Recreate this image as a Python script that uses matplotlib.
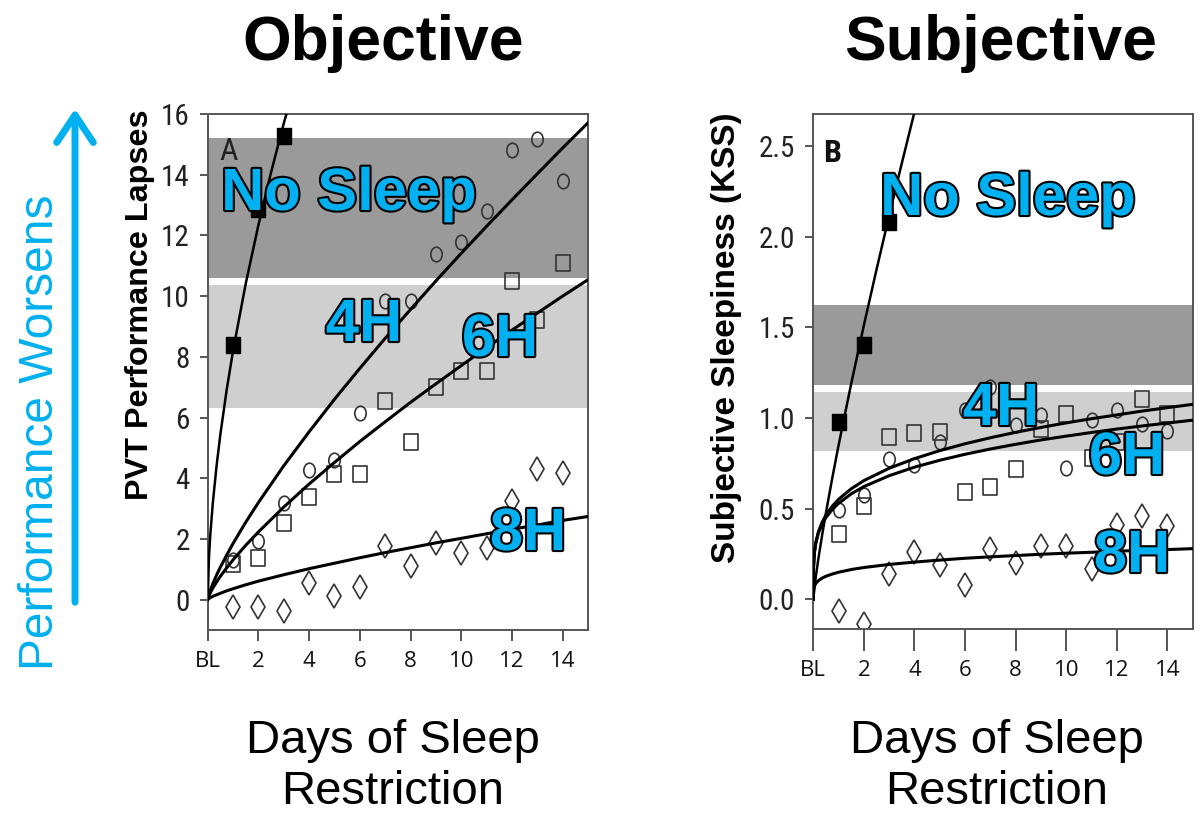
import matplotlib
matplotlib.use("Agg")
import matplotlib.pyplot as plt
import matplotlib.patheffects as pe
from matplotlib import font_manager
from matplotlib.path import Path
from matplotlib.transforms import Affine2D
from matplotlib.patches import FancyArrowPatch

# ---------------- data ----------------
days = [1, 2, 3, 4, 5, 6, 7, 8, 9, 10, 11, 12, 13, 14]
nosleep_days = [1, 2, 3]

# Objective (PVT lapses)
pvt_nosleep = [8.38, 12.88, 15.26]
pvt_4h = [1.3, 1.92, 3.18, 4.28, 4.6, 6.14, 9.84, 9.84, 11.4, 11.78, 12.8, 14.83, 15.18, 13.78]
pvt_6h = [1.17, 1.36, 2.54, 3.39, 4.13, 4.13, 6.53, 5.18, 6.99, 7.53, 7.53, 10.49, 9.21, 11.1]
pvt_8h = [-0.23, -0.23, -0.36, 0.55, 0.13, 0.41, 1.78, 1.1, 1.87, 1.54, 1.7, 3.26, 4.32, 4.17]

# Subjective (KSS)
kss_nosleep = [0.978, 1.40, 2.08]
kss_4h = [0.491, 0.574, 0.772, 0.739, 0.868, 1.046, 1.171, 0.96, 1.015, 0.724, 0.987, 1.046, 0.969, 0.928]
kss_6h = [0.362, 0.513, 0.895, 0.919, 0.923, 0.592, 0.619, 0.721, 0.941, 1.024, 0.781, 0.868, 1.107, 1.024]
kss_8h = [-0.061, -0.134, 0.142, 0.261, 0.188, 0.077, 0.28, 0.20, 0.292, 0.292, 0.169, 0.408, 0.458, 0.403]

# fitted curves
fit_x = [0, 0.01, 0.05, 0.1, 0.2, 0.35, 0.5, 0.75, 1, 1.5, 2, 3, 4, 5, 6, 7, 8, 9, 10, 11, 12, 13, 14, 15]
ns_x = [0, 0.05, 0.1, 0.2, 0.35, 0.5, 0.75, 1, 1.5, 2, 2.5, 3, 3.5, 4, 4.5]

pvt_fit_ns = [0, 1.40, 2.11, 3.17, 4.41, 5.45, 6.92, 8.2, 10.41, 12.34, 14.08, 15.69, 17.17, 18.5, 19.8]
pvt_fit_4h = [0, 0.049, 0.17, 0.30, 0.52, 0.81, 1.07, 1.47, 1.85, 2.55, 3.20, 4.41, 5.53, 6.60, 7.62, 8.61,
              9.56, 10.50, 11.41, 12.30, 13.17, 14.03, 14.88, 15.71]
pvt_fit_6h = [0, 0.038, 0.13, 0.22, 0.38, 0.58, 0.77, 1.05, 1.31, 1.79, 2.23, 3.05, 3.81, 4.52, 5.21, 5.86,
              6.50, 7.11, 7.71, 8.30, 8.88, 9.44, 10.00, 10.54]
pvt_fit_8h = [0, 0.011, 0.04, 0.064, 0.11, 0.16, 0.21, 0.29, 0.36, 0.49, 0.61, 0.82, 1.02, 1.20, 1.38, 1.55,
              1.71, 1.87, 2.02, 2.17, 2.32, 2.46, 2.61, 2.74]

kss_fit_ns = [0, 0.071, 0.126, 0.224, 0.356, 0.478, 0.669, 0.85, 1.19, 1.511, 1.818, 2.116, 2.404, 2.686, 2.96]
kss_fit_4h = [0, 0.178, 0.264, 0.313, 0.372, 0.426, 0.465, 0.514, 0.552, 0.610, 0.655, 0.723, 0.776, 0.820,
              0.858, 0.891, 0.921, 0.948, 0.973, 0.996, 1.017, 1.038, 1.057, 1.075]
kss_fit_6h = [0, 0.184, 0.266, 0.312, 0.366, 0.416, 0.452, 0.496, 0.53, 0.582, 0.622, 0.682, 0.729, 0.767,
              0.800, 0.829, 0.855, 0.879, 0.900, 0.920, 0.939, 0.956, 0.972, 0.988]
kss_fit_8h = [0, 0.052, 0.0753, 0.0883, 0.1036, 0.1178, 0.128, 0.140, 0.15, 0.165, 0.176, 0.193, 0.206, 0.217,
              0.227, 0.235, 0.242, 0.249, 0.255, 0.260, 0.266, 0.271, 0.275, 0.280]

# bands (dark, light)
pvt_bands = [(10.6, 15.2), (6.33, 10.38)]
kss_bands = [(1.18, 1.62), (0.818, 1.143)]

xtick_pos = [0, 2, 4, 6, 8, 10, 12, 14]
xtick_lab = ["BL", "2", "4", "6", "8", "10", "12", "14"]
pvt_yticks = [0, 2, 4, 6, 8, 10, 12, 14, 16]
kss_yticks = [0.0, 0.5, 1.0, 1.5, 2.0, 2.5]

# ---------------- fonts ----------------
_names = {f.name for f in font_manager.fontManager.ttflist}
_dv_cond = any(f.name == "DejaVu Sans" and str(f.stretch) in ("condensed", "semi-condensed", "600", "700")
               for f in font_manager.fontManager.ttflist)
NARROW_KW = {"family": ["Liberation Sans", "DejaVu Sans"]}
for cand in ["Liberation Sans Narrow", "Roboto Condensed", "Open Sans Condensed", "DejaVu Sans Condensed"]:
    if cand in _names:
        NARROW_KW = {"family": [cand, "DejaVu Sans"]}
        break
else:
    if _dv_cond:
        NARROW_KW = {"family": ["DejaVu Sans"], "fontstretch": "condensed"}

# ---------------- style ----------------
BLUE = "#00B0F0"
DARK = "#9a9a9a"
LIGHT = "#cfcfcf"
EDGE = "#333333"
ARIAL = ["Liberation Sans", "DejaVu Sans"]

oval = Path.unit_circle().transformed(Affine2D().scale(0.78, 1.0))
rect = Path([(-0.85, -1), (0.85, -1), (0.85, 1), (-0.85, 1), (-0.85, -1)],
            [Path.MOVETO, Path.LINETO, Path.LINETO, Path.LINETO, Path.CLOSEPOLY])

fig = plt.figure(figsize=(11.99, 8.16), dpi=100)
W, H = 1199.0, 816.0

ax1 = fig.add_axes([207.7 / W, 1 - 630 / H, (588 - 207.7) / W, (630 - 114) / H])
ax2 = fig.add_axes([813.3 / W, 1 - 628.5 / H, (1192.7 - 813.3) / W, (628.5 - 114) / H])


def style_axes(ax, ylim, yticks, ylabels, xtick_len, xpad):
    ax.set_xlim(0, 15)
    ax.set_ylim(*ylim)
    for s in ax.spines.values():
        s.set_color("#555555")
        s.set_linewidth(1.4)
    ax.set_xticks(xtick_pos)
    ax.set_xticklabels(xtick_lab, fontsize=16, family=["Open Sans", "DejaVu Sans"], color="#111111")
    ax.set_yticks(yticks)
    ax.set_yticklabels(ylabels, fontsize=21, color="#222222", **NARROW_KW)
    ax.tick_params(axis="x", length=xtick_len, width=1.4, color="#555555", pad=xpad)
    ax.tick_params(axis="y", length=6, width=1.4, color="#555555", pad=7)


def draw_panel(ax, bands, fit_nosleep, fit_4h, fit_6h, fit_8h, ns, d4, d6, d8):
    ax.axhspan(bands[0][0], bands[0][1], color=DARK, lw=0, zorder=0)
    ax.axhspan(bands[1][0], bands[1][1], color=LIGHT, lw=0, zorder=0)
    for y in (fit_4h, fit_6h, fit_8h):
        ax.plot(fit_x, y, color="black", lw=2.2, zorder=3)
    ax.plot(ns_x, fit_nosleep, color="black", lw=1.8, zorder=3)
    ax.plot(days, d4, linestyle="none", marker=oval, ms=10.5, mfc="none", mec=EDGE, mew=1.2, zorder=2)
    ax.plot(days, d6, linestyle="none", marker=rect, ms=11.5, mfc="none", mec=EDGE, mew=1.2, zorder=2)
    ax.plot(days, d8, linestyle="none", marker="d", ms=12.5, mfc="none", mec=EDGE, mew=1.2, zorder=2)
    ax.plot(nosleep_days, ns, linestyle="none", marker=rect, ms=11.5, mfc="black", mec="black", zorder=4)


draw_panel(ax1, pvt_bands, pvt_fit_ns, pvt_fit_4h, pvt_fit_6h, pvt_fit_8h,
           pvt_nosleep, pvt_4h, pvt_6h, pvt_8h)
draw_panel(ax2, kss_bands, kss_fit_ns, kss_fit_4h, kss_fit_6h, kss_fit_8h,
           kss_nosleep, kss_4h, kss_6h, kss_8h)

style_axes(ax1, (-1, 16), pvt_yticks, [str(v) for v in pvt_yticks], 8, 7)
style_axes(ax2, (-0.16, 2.675), kss_yticks, ["%.1f" % v for v in kss_yticks], 16, 7)

ax1.text(0.45, 14.75, "A", fontsize=23, color="#222222", ha="left", va="center", zorder=5, **NARROW_KW)
ax2.text(0.4, 2.46, "B", fontsize=23, fontweight="bold", color="#111111",
         ha="left", va="center", zorder=5, **NARROW_KW)


def fx(px):
    return px / W


def fy(py):
    return 1 - py / H


# titles
fig.text(fx(383), fy(60), "Objective", fontsize=45, fontweight="bold", family=ARIAL,
         ha="center", va="baseline")
fig.text(fx(1001), fy(60), "Subjective", fontsize=45, fontweight="bold", family=ARIAL,
         ha="center", va="baseline")

# axis labels
fig.text(fx(140), fy(305), "PVT Performance Lapses", fontsize=23.3, fontweight="bold", family=ARIAL,
         rotation=90, ha="center", va="center")
fig.text(fx(726), fy(338), "Subjective Sleepiness (KSS)", fontsize=24, fontweight="bold", family=ARIAL,
         rotation=90, ha="center", va="center")

for cx in (393, 997):
    fig.text(fx(cx), fy(753), "Days of Sleep", fontsize=34, family=ARIAL, ha="center", va="baseline")
    fig.text(fx(cx), fy(804), "Restriction", fontsize=34, family=ARIAL, ha="center", va="baseline")

# Performance worsens arrow
fig.text(fx(41), fy(432), "Performance Worsens", fontsize=34.5, family=ARIAL, color=BLUE,
         rotation=90, ha="center", va="center")
arrow = FancyArrowPatch((fx(75), fy(605)), (fx(75), fy(106)), transform=fig.transFigure,
                        arrowstyle="->,head_length=0.9,head_width=0.6", color=BLUE, lw=5,
                        mutation_scale=22)
fig.add_artist(arrow)

# blue annotations
outline = [pe.withStroke(linewidth=3, foreground="black")]
labels = [
    (349, 210, "No Sleep"), (364, 341, "4H"), (500, 356, "6H"), (528, 550, "8H"),
    (1008, 215, "No Sleep"), (1001, 425, "4H"), (1127, 474, "6H"), (1132, 572, "8H"),
]
for px, py, t in labels:
    fig.text(fx(px), fy(py), t, fontsize=43, fontweight="bold", family=ARIAL, color=BLUE,
             ha="center", va="baseline", path_effects=outline, zorder=10)

fig.savefig("out.png", dpi=100)
